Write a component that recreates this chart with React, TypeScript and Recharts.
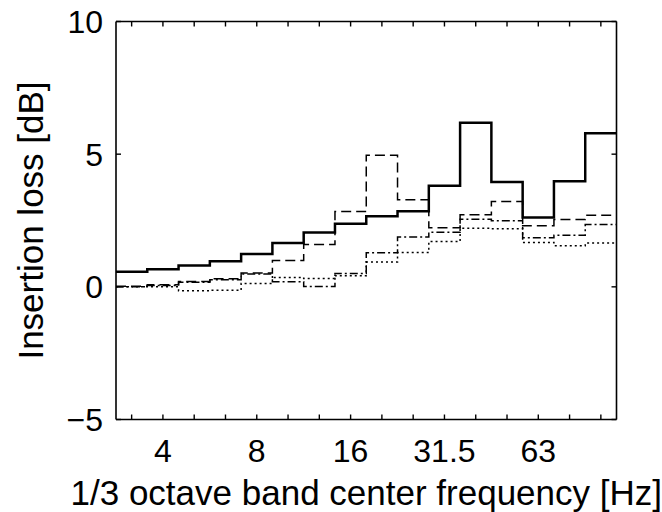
import React from 'react';
import { LineChart, Line, XAxis, YAxis, Label } from 'recharts';

// 1/3 octave band centre frequencies [Hz]
const bands = ['3.15', '4', '5', '6.3', '8', '10', '12.5', '16', '20', '25', '31.5', '40', '50', '63', '80', '100'];
const labeledBands = ['4', '8', '16', '31.5', '63'];
const yTicks = [-5, 0, 5, 10];

// insertion loss [dB] per band
const solidLoss = [0.57, 0.66, 0.8, 0.96, 1.24, 1.65, 2.05, 2.38, 2.66, 2.85, 3.81, 6.18, 3.95, 2.61, 3.98, 5.79];
const dashedLoss = [0.02, 0.08, 0.2, 0.3, 0.52, 0.99, 1.6, 2.84, 4.96, 3.28, 2.23, 2.72, 3.22, 2.3, 2.54, 2.7];
const dashDotLoss = [0.0, 0.05, 0.17, 0.27, 0.48, 0.19, 0.01, 0.5, 1.28, 1.88, 2.06, 2.55, 2.49, 1.85, 1.94, 2.35];
const dottedLoss = [0.0, 0.0, -0.15, -0.13, 0.13, 0.35, 0.31, 0.42, 0.94, 1.29, 1.71, 2.21, 2.19, 1.67, 1.55, 1.65];

// stairs: each band value spans from its lower band edge to its upper band edge
const n = bands.length;
const chartData = Array.from({ length: n + 1 }, (_, k) => {
  const i = Math.min(k, n - 1);
  return {
    pos: k - 0.5,
    solid: solidLoss[i],
    dashed: dashedLoss[i],
    dashDot: dashDotLoss[i],
    dotted: dottedLoss[i],
  };
});
const bandTicks = bands.map((_, i) => i);

const FONT = '"Liberation Sans", Arial, Helvetica, sans-serif';
const TICK_FS = 32;
const TITLE_FS = 35;

const BottomTick = (props: any) => {
  const { x, y, payload } = props;
  const label = bands[payload.value];
  const show = labeledBands.includes(label);
  return (
    <g>
      <line x1={x} x2={x} y1={y} y2={y - 5} stroke="#000" strokeWidth={1.4} />
      {show && (
        <text x={x} y={y + 42} textAnchor="middle" fontSize={TICK_FS} fontFamily={FONT} fill="#000">
          {label}
        </text>
      )}
    </g>
  );
};

const TopTick = (props: any) => {
  const { x, y } = props;
  return <line x1={x} x2={x} y1={y} y2={y + 5} stroke="#000" strokeWidth={1.4} />;
};

const LeftTick = (props: any) => {
  const { x, y, payload } = props;
  const v = payload.value as number;
  const txt = v < 0 ? '\u2212' + Math.abs(v) : String(v);
  return (
    <g>
      <line x1={x} x2={x + 5} y1={y} y2={y} stroke="#000" strokeWidth={1.4} />
      <text x={x - 13} y={y + 11.5} textAnchor="end" fontSize={TICK_FS} fontFamily={FONT} fill="#000">
        {txt}
      </text>
    </g>
  );
};

const RightTick = (props: any) => {
  const { x, y } = props;
  return <line x1={x} x2={x - 5} y1={y} y2={y} stroke="#000" strokeWidth={1.4} />;
};

const XTitle = (props: any) => {
  const vb = props.viewBox;
  return (
    <text x={vb.x + vb.width / 2} y={vb.y + vb.height - 7} textAnchor="middle" fontSize={TITLE_FS} fontFamily={FONT} fill="#000">
      1/3 octave band center frequency [Hz]
    </text>
  );
};

const YTitle = (props: any) => {
  const vb = props.viewBox;
  const cx = vb.x + 43;
  const cy = vb.y + vb.height / 2;
  return (
    <text x={cx} y={cy} transform={`rotate(-90, ${cx}, ${cy})`} textAnchor="middle" fontSize={TITLE_FS} fontFamily={FONT} fill="#000">
      Insertion loss [dB]
    </text>
  );
};

export default function App() {
  return (
    <div style={{ position: 'absolute', left: 0, top: 0, width: 662, height: 512, background: '#fff' }}>
      <LineChart width={662} height={512} data={chartData} margin={{ top: 20.5, right: 44.5, bottom: 0, left: 0 }}>
        <XAxis
          xAxisId="b"
          dataKey="pos"
          type="number"
          domain={[-0.5, n - 0.5]}
          allowDataOverflow
          ticks={bandTicks}
          interval={0}
          tickSize={0}
          tickMargin={0}
          tickLine={false}
          tick={<BottomTick />}
          height={92.5}
          axisLine={{ stroke: '#000', strokeWidth: 1.6 }}
        >
          <Label content={<XTitle />} />
        </XAxis>
        <XAxis
          xAxisId="t"
          orientation="top"
          dataKey="pos"
          type="number"
          domain={[-0.5, n - 0.5]}
          allowDataOverflow
          ticks={bandTicks}
          interval={0}
          tickSize={0}
          tickMargin={0}
          tickLine={false}
          tick={<TopTick />}
          height={1}
          axisLine={{ stroke: '#000', strokeWidth: 1.6 }}
        />
        <YAxis
          yAxisId="l"
          type="number"
          domain={[-5, 10]}
          allowDataOverflow
          ticks={yTicks}
          interval={0}
          tickSize={0}
          tickMargin={0}
          tickLine={false}
          tick={<LeftTick />}
          width={116}
          axisLine={{ stroke: '#000', strokeWidth: 1.6 }}
        >
          <Label content={<YTitle />} />
        </YAxis>
        <YAxis
          yAxisId="r"
          orientation="right"
          type="number"
          domain={[-5, 10]}
          allowDataOverflow
          ticks={yTicks}
          interval={0}
          tickSize={0}
          tickMargin={0}
          tickLine={false}
          tick={<RightTick />}
          width={1}
          axisLine={{ stroke: '#000', strokeWidth: 1.6 }}
        />
        <Line xAxisId="b" yAxisId="l" type="stepAfter" dataKey="dotted" stroke="#000" strokeWidth={1.5} strokeDasharray="2 3" dot={false} isAnimationActive={false} />
        <Line xAxisId="b" yAxisId="l" type="stepAfter" dataKey="dashDot" stroke="#000" strokeWidth={1.5} strokeDasharray="8 3 2 3" dot={false} isAnimationActive={false} />
        <Line xAxisId="b" yAxisId="l" type="stepAfter" dataKey="dashed" stroke="#000" strokeWidth={1.5} strokeDasharray="10 5" dot={false} isAnimationActive={false} />
        <Line xAxisId="b" yAxisId="l" type="stepAfter" dataKey="solid" stroke="#000" strokeWidth={2.5} dot={false} isAnimationActive={false} />
      </LineChart>
    </div>
  );
}
